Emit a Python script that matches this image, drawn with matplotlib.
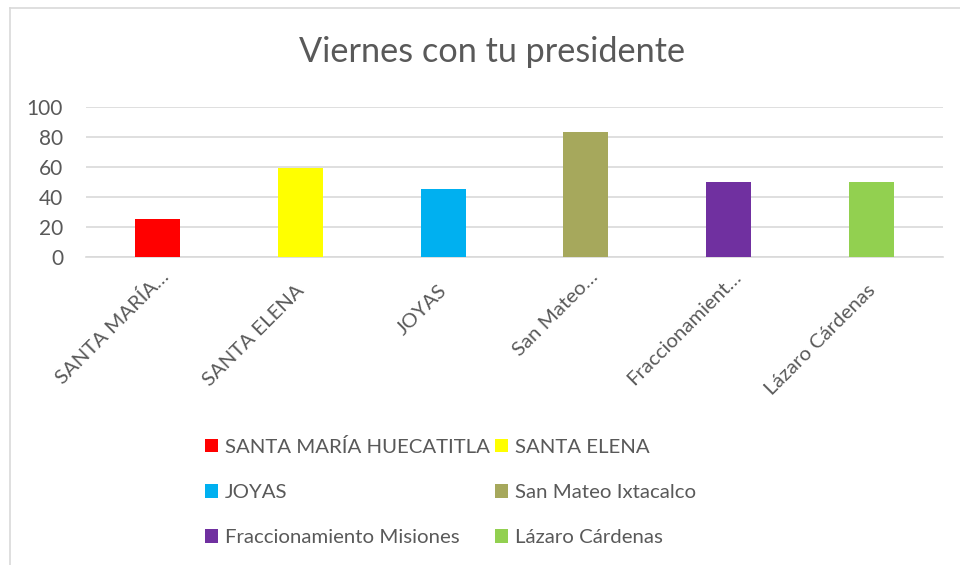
import matplotlib
matplotlib.use("Agg")
import matplotlib.pyplot as plt
from matplotlib.lines import Line2D
from matplotlib import transforms

plt.rcParams['font.family'] = ['Lato', 'DejaVu Sans']

title = "Viernes con tu presidente"
categories = ["SANTA MARÍA HUECATITLA", "SANTA ELENA", "JOYAS",
              "San Mateo Ixtacalco", "Fraccionamiento Misiones", "Lázaro Cárdenas"]
tick_labels = ["SANTA MARÍA…", "SANTA ELENA", "JOYAS",
               "San Mateo…", "Fraccionamient…", "Lázaro Cárdenas"]
values = [25, 59, 45, 83, 50, 50]
colors = ["#FF0000", "#FFFF00", "#00B0F0", "#A6A85C", "#7030A0", "#92D050"]
yticks = [0, 20, 40, 60, 80, 100]

TXT = "#595959"
GRID = "#D9D9D9"

fig = plt.figure(figsize=(9.6, 5.65), dpi=100)
W, H = 960, 565

# chart border (top and left visible)
fig.add_artist(Line2D([10 / W, 1.0], [1 - 8 / H, 1 - 8 / H], color=GRID, lw=1.2, transform=fig.transFigure))
fig.add_artist(Line2D([10 / W, 10 / W], [0, 1 - 8 / H], color=GRID, lw=1.2, transform=fig.transFigure))

left, right = 86 / W, 943 / W
bottom, top = 1 - 256.7 / H, 1 - 106.7 / H
ax = fig.add_axes([left, bottom, right - left, top - bottom])

x = list(range(len(categories)))
bars = ax.bar(x, values, width=0.315, color=colors, zorder=3)
for b, lab in zip(bars, categories):
    b.set_label(lab)

ax.set_xlim(-0.5, len(categories) - 0.5)
ax.set_ylim(0, 100)
ax.set_yticks(yticks)
ax.set_yticklabels([str(v) for v in yticks], fontsize=15, color=TXT)
ax.yaxis.grid(True, color=GRID, lw=1.2, zorder=0)
ax.tick_params(axis='y', length=0, pad=16.5)
ax.tick_params(axis='x', length=0)
for s in ['top', 'right', 'left']:
    ax.spines[s].set_visible(False)
ax.spines['bottom'].set_color(GRID)
ax.spines['bottom'].set_linewidth(1.2)
ax.spines['bottom'].set_zorder(1)

ax.set_xticks(x)
ax.set_xticklabels([])
for xi, lab in zip(x, tick_labels):
    if lab.endswith("…"):
        dx, dy = 13, -21
    else:
        dx, dy = 5, -35
    off = transforms.ScaledTranslation(dx / 100, dy / 100, fig.dpi_scale_trans)
    ax.text(xi, 0, lab, rotation=45, rotation_mode='anchor', ha='right', va='baseline',
            fontsize=14.7, color=TXT, transform=ax.transData + off)

fig.text(492 / W, 1 - 52 / H, title, ha='center', va='center', fontsize=24.7, color=TXT)

order = [0, 2, 4, 1, 3, 5]
handles = [bars[i] for i in order]
labels = [categories[i] for i in order]
leg = fig.legend(handles, labels, loc='upper left', bbox_to_anchor=(205 / W, 1 - 438 / H),
                 ncol=2, frameon=False, fontsize=14.7, handlelength=0.63, handleheight=0.63,
                 handletextpad=0.35, columnspacing=0.25, labelspacing=1.38, borderaxespad=0,
                 borderpad=0)
for t in leg.get_texts():
    t.set_color(TXT)

fig.savefig("out.png", dpi=100, facecolor='white')
